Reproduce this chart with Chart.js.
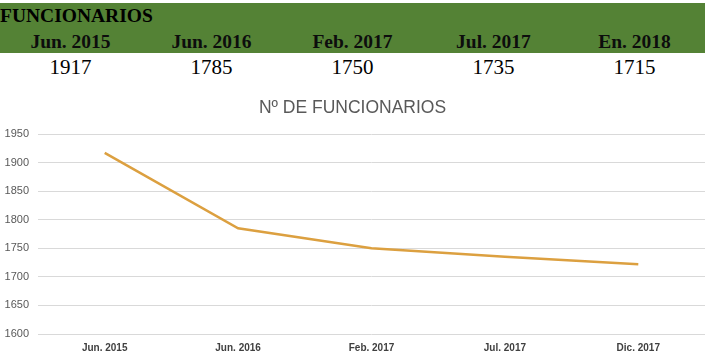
<!DOCTYPE html>
<html>
<head>
<meta charset="utf-8">
<script src="https://cdn.jsdelivr.net/npm/chart.js@4.4.1/dist/chart.umd.min.js"></script>
<style>
    body { margin: 0; width: 705px; height: 362px; background: #fff; overflow: hidden; position: relative; }
    #band { position: absolute; left: 0; top: 3px; width: 705px; height: 50px; background: #548235; }
    #tbl-title { position: absolute; left: 0; top: 5px; font: bold 19.5px "Liberation Serif", serif; color: #000; line-height: 22px; }
    .cell { position: absolute; width: 141px; text-align: center; font-family: "Liberation Serif", serif; }
    .head { top: 30px; font-weight: bold; font-size: 19.5px; line-height: 24px; color: #0d0d0d; }
    .val { top: 55px; font-size: 21px; line-height: 24px; color: #000; }
    #wrap { position: absolute; left: 0; top: 90px; width: 705px; height: 272px; }
</style>
</head>
<body>
<div id="band"></div>
<div id="tbl-title">FUNCIONARIOS</div>
<div id="cells"></div>
<div id="wrap"><canvas id="funcionarios-chart"></canvas></div>
<script>
const tableHeaders = ['Jun. 2015', 'Jun. 2016', 'Feb. 2017', 'Jul. 2017', 'En. 2018'];
const tableValues = [1917, 1785, 1750, 1735, 1715];

const chartLabels = ['Jun. 2015', 'Jun. 2016', 'Feb. 2017', 'Jul. 2017', 'Dic. 2017'];
const chartValues = [1917, 1785, 1750, 1735, 1722];
const yTicks = [1600, 1650, 1700, 1750, 1800, 1850, 1900, 1950];

function buildTable(){
    let cells = document.getElementById('cells');
    tableHeaders.forEach((h, i) => {
        let head = document.createElement('div');
        head.className = 'cell head';
        head.style.left = (i * 141) + 'px';
        head.textContent = h;
        cells.appendChild(head);

        let val = document.createElement('div');
        val.className = 'cell val';
        val.style.left = (i * 141) + 'px';
        val.textContent = tableValues[i];
        cells.appendChild(val);
    });
}

function initializeChart(){
    let context = document.getElementById('funcionarios-chart').getContext('2d');
    new Chart(context, {
        type: 'line',
        data: {
            labels: chartLabels,
            datasets: [{
                data: chartValues,
                borderColor: '#dca040',
                borderWidth: 2.5,
                pointRadius: 0,
                tension: 0,
                fill: false
            }]
        },
        options: {
            responsive: true,
            maintainAspectRatio: false,
            animation: false,
            layout: { padding: { left: 0, right: 0, top: 0, bottom: 0 } },
            plugins: {
                legend: { display: false },
                tooltip: { enabled: false },
                title: {
                    display: true,
                    text: 'Nº DE FUNCIONARIOS',
                    color: '#595959',
                    font: { family: 'Arial, "Liberation Sans", sans-serif', size: 17.5, weight: 'normal' },
                    padding: { top: 8, bottom: 15 }
                }
            },
            scales: {
                x: {
                    offset: true,
                    grid: { display: false, drawTicks: false, offset: true },
                    border: { display: false },
                    ticks: {
                        color: '#404040',
                        padding: 8,
                        maxRotation: 0,
                        font: { family: 'Arial, "Liberation Sans", sans-serif', size: 10, weight: 'bold' }
                    }
                },
                y: {
                    min: yTicks[0],
                    max: yTicks[yTicks.length - 1],
                    afterBuildTicks: (scale) => { scale.ticks = yTicks.map(v => ({ value: v })); },
                    afterFit: (scale) => { scale.width = 38; },
                    grid: { color: '#d9d9d9', drawTicks: false },
                    border: { display: false },
                    ticks: {
                        color: '#595959',
                        padding: 9,
                        callback: (value) => String(value),
                        font: { family: 'Arial, "Liberation Sans", sans-serif', size: 11 }
                    }
                }
            }
        }
    });
}

window.onload = () => {
    buildTable();
    initializeChart();
};
</script>
</body>
</html>
